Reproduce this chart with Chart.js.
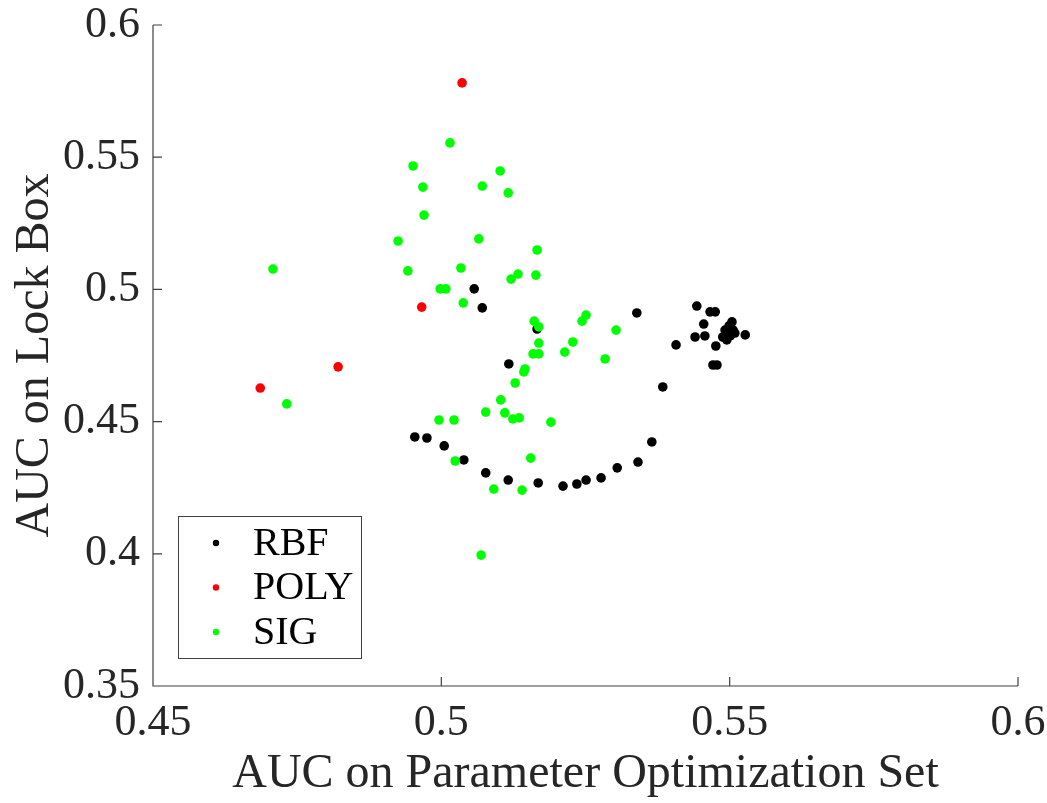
<!DOCTYPE html>
<html>
<head>
<meta charset="utf-8">
<script src="https://cdn.jsdelivr.net/npm/chart.js@4.4.0/dist/chart.umd.min.js"></script>
<style>
  html,body{margin:0;padding:0;background:#fff;}
  #wrap{width:1047px;height:803px;}
</style>
</head>
<body>
<div id="wrap"><canvas id="c" width="1047" height="803"></canvas></div>
<script>
// ====== datos ======
const seriesNames = ["RBF", "POLY", "SIG"];
const seriesColors = ["#000000", "#ff0000", "#00ff00"];

const rbfX = [0.4954,0.4975,0.5005,0.5039,0.5077,0.5116,0.5168,0.5211,0.5235,0.5251,0.5277,0.5305,0.5341,0.5365,0.5384,
              0.5057,0.5071,0.5117,0.5166,0.5339,0.5443,0.5466,0.5475,0.5455,0.5440,0.5457,0.5407,0.5476,0.5471,0.5478,
              0.5527,0.5504,0.5492,0.5506,0.5488,0.5495,0.5509,0.5499,0.5501];
const rbfY = [0.4442,0.4438,0.4408,0.4355,0.4306,0.4279,0.4268,0.4256,0.4264,0.4279,0.4287,0.4325,0.4347,0.4423,0.4631,
              0.5002,0.4930,0.4718,0.4850,0.4911,0.4937,0.4915,0.4915,0.4869,0.4820,0.4824,0.4790,0.4786,0.4714,0.4714,
              0.4828,0.4877,0.4846,0.4846,0.4820,0.4809,0.4835,0.4862,0.4824];

const polyX = [0.5036,0.4966,0.4821,0.4686];
const polyY = [0.5781,0.4933,0.4707,0.4627];

const sigX = [0.4708,0.4732,0.4925,0.4942,0.4951,0.4968,0.4970,0.4998,0.5008,0.5015,0.5034,0.5038,0.5065,0.5071,0.5102,0.5116,
              0.5166,0.5164,0.5121,0.5133,0.5161,0.5169,0.5169,0.5159,0.5169,0.5145,0.5143,0.5128,0.5103,0.5077,0.5110,0.5124,
              0.5135,0.5190,0.4996,0.5022,0.5024,0.5155,0.5091,0.5140,0.5069,0.5244,0.5251,0.5303,0.5228,0.5214,0.5284];
const sigY = [0.5077,0.4567,0.5183,0.5070,0.5467,0.5387,0.5281,0.5002,0.5002,0.5554,0.5081,0.4949,0.5191,0.5391,0.5448,0.5365,
              0.5149,0.5054,0.5039,0.5058,0.4880,0.4858,0.4797,0.4756,0.4756,0.4699,0.4688,0.4646,0.4582,0.4536,0.4533,0.4510,
              0.4514,0.4498,0.4506,0.4506,0.4351,0.4362,0.4245,0.4241,0.3995,0.4880,0.4903,0.4846,0.4801,0.4763,0.4737];

const xTicks = [0.45, 0.5, 0.55, 0.6];
const xTickLabels = ["0.45", "0.5", "0.55", "0.6"];
const yTicks = [0.35, 0.4, 0.45, 0.5, 0.55, 0.6];
const yTickLabels = ["0.35", "0.4", "0.45", "0.5", "0.55", "0.6"];

const xTitle = "AUC on Parameter Optimization Set";
const yTitle = "AUC on Lock Box";

// ====== estilo ======
const FONT = "'Liberation Serif', 'Times New Roman', serif";
const INK = "#262626";
const AXIS = "#404040";

const pts = (xs, ys) => xs.map((x, i) => ({x, y: ys[i]}));
const allX = [rbfX, polyX, sigX], allY = [rbfY, polyY, sigY];

const datasets = seriesNames.map((name, i) => ({
  label: name,
  data: pts(allX[i], allY[i]),
  backgroundColor: seriesColors[i],
  borderWidth: 0,
  pointRadius: 4.8,
  pointHoverRadius: 4.8,
  order: 3 - i            // SIG arriba, como en el original
}));

/* ====== ejes con ticks hacia dentro + leyenda en caja ====== */
const matlabAxes = {
  id: "matlabAxes",
  afterDraw(chart){
    const {ctx, chartArea: a, scales: {x, y}} = chart;
    ctx.save();
    ctx.strokeStyle = AXIS; ctx.lineWidth = 1.2;
    ctx.beginPath();
    ctx.moveTo(a.left, a.top); ctx.lineTo(a.left, a.bottom); ctx.lineTo(a.right, a.bottom);
    xTicks.forEach(v => { const px = x.getPixelForValue(v); ctx.moveTo(px, a.bottom); ctx.lineTo(px, a.bottom - 9); });
    yTicks.forEach(v => { const py = y.getPixelForValue(v); ctx.moveTo(a.left, py); ctx.lineTo(a.left + 9, py); });
    ctx.stroke();

    // leyenda
    const bx = 178, by = 516, bw = 183, bh = 142;
    ctx.fillStyle = "#fff";
    ctx.fillRect(bx, by, bw, bh);
    ctx.strokeStyle = AXIS; ctx.lineWidth = 1;
    ctx.strokeRect(bx + 0.5, by + 0.5, bw, bh);
    ctx.font = "40px " + FONT;
    ctx.textBaseline = "middle";
    seriesNames.forEach((name, i) => {
      const cy = by + 27 + i * 44.5;
      ctx.fillStyle = seriesColors[i];
      ctx.beginPath(); ctx.arc(bx + 38, cy, 3.2, 0, Math.PI * 2); ctx.fill();
      ctx.fillStyle = "#000";
      ctx.fillText(name, bx + 75, cy + 1);
    });
    ctx.restore();
  }
};

const noPad = s => { s.paddingLeft = 0; s.paddingRight = 0; s.paddingTop = 0; s.paddingBottom = 0; };

new Chart(document.getElementById("c"), {
  type: "scatter",
  data: { datasets },
  options: {
    responsive: false,
    animation: false,
    events: [],
    layout: { padding: { top: 25, right: 29, left: 0, bottom: 0 } },
    plugins: { legend: { display: false }, tooltip: { enabled: false } },
    scales: {
      x: {
        type: "linear", min: 0.45, max: 0.6,
        grid: { display: false, drawTicks: false },
        border: { display: false },
        afterBuildTicks: s => { s.ticks = xTicks.map(v => ({value: v})); },
        afterFit: s => { s.height = 117; noPad(s); },
        ticks: {
          autoSkip: false, maxRotation: 0, padding: 11,
          color: INK, font: { family: FONT, size: 44 },
          callback: v => xTickLabels[xTicks.findIndex(t => Math.abs(t - v) < 1e-9)]
        },
        title: { display: true, text: xTitle, color: INK,
                 font: { family: FONT, size: 48 }, padding: { top: 0, bottom: 0 } }
      },
      y: {
        type: "linear", min: 0.35, max: 0.6,
        grid: { display: false, drawTicks: false },
        border: { display: false },
        afterBuildTicks: s => { s.ticks = yTicks.map(v => ({value: v})); },
        afterFit: s => { s.width = 153; noPad(s); },
        ticks: {
          autoSkip: false, padding: 13,
          color: INK, font: { family: FONT, size: 44 },
          callback: v => yTickLabels[yTicks.findIndex(t => Math.abs(t - v) < 1e-9)]
        },
        title: { display: true, text: yTitle, color: INK,
                 font: { family: FONT, size: 48 }, padding: { top: 7, bottom: 0 } }
      }
    }
  },
  plugins: [matlabAxes]
});
</script>
</body>
</html>
